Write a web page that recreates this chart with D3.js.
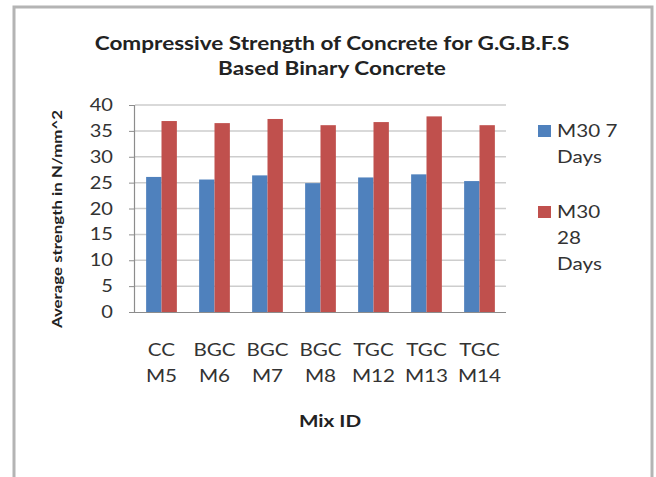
<!DOCTYPE html>
<html><head><meta charset="utf-8">
<script src="https://cdn.jsdelivr.net/npm/d3@7"></script>
<style>body{margin:0;background:#fff}svg{display:block}</style>
</head><body>
<svg id="c" width="656" height="477"></svg>
<script>
const categories = [["CC","M5"],["BGC","M6"],["BGC","M7"],["BGC","M8"],["TGC","M12"],["TGC","M13"],["TGC","M14"]];
const seriesNames = [["M30 7","Days"],["M30","28","Days"]];
const days7 = [26.1, 25.6, 26.4, 24.9, 26.0, 26.6, 25.3];
const days28 = [36.9, 36.5, 37.3, 36.1, 36.7, 37.8, 36.1];
const yTicks = [0,5,10,15,20,25,30,35,40];
const colors = ["#4F81BD","#C0504D"];

const svg = d3.select("#c");
const font = "Lato, 'Open Sans', sans-serif";
const SX = 1.18;
function txt(g, x, y, t, o) {
  o = o || {};
  return g.append("text")
    .attr("transform", `translate(${x},${y}) scale(${o.sx||SX},1)`)
    .attr("text-anchor", o.anchor || "start")
    .attr("font-family", font)
    .attr("font-weight", o.bold ? "bold" : "normal")
    .attr("font-size", o.size || 17)
    .attr("fill", o.fill || "#333")
    .text(t);
}

svg.append("rect").attr("x",14).attr("y",7).attr("width",638).attr("height",490)
  .attr("fill","#fff").attr("stroke","#b4b4b4").attr("stroke-width",3);

const m = {l:135, r:506, t:105, b:312};
const x = d3.scaleBand().domain(d3.range(categories.length)).range([m.l,m.r]).paddingInner(0.42).paddingOuter(0.21);
const y = d3.scaleLinear().domain([0,40]).range([m.b,m.t]);

// gridlines
svg.append("g").selectAll("line").data(yTicks.filter(d=>d>0)).join("line")
  .attr("x1",m.l).attr("x2",m.r).attr("y1",d=>y(d)).attr("y2",d=>y(d))
  .attr("stroke","#cdcdcd").attr("stroke-width",1.5);

// y axis
const ya = svg.append("g").attr("transform",`translate(${m.l},0)`)
  .call(d3.axisLeft(y).tickValues(yTicks).tickSize(6).tickFormat(""));
ya.select(".domain").attr("stroke","#8c8c8c").attr("stroke-width",1.2).attr("d",`M-0.5,${m.t}V${m.b}`);
ya.selectAll(".tick line").attr("stroke","#8c8c8c");
yTicks.forEach(v => txt(svg, 113, y(v) + 6, String(v), {anchor:"end", size:17}));

// x axis line
svg.append("line").attr("x1",m.l).attr("x2",m.r).attr("y1",m.b+0.5).attr("y2",m.b+0.5).attr("stroke","#8c8c8c").attr("stroke-width",1.2);

const sub = d3.scaleBand().domain([0,1]).range([0,x.bandwidth()]);
[days7, days28].forEach((vals,s)=>{
  svg.append("g").selectAll("rect").data(vals).join("rect")
    .attr("x",(d,i)=>x(i)+sub(s)).attr("width",sub.bandwidth())
    .attr("y",d=>y(d)).attr("height",d=>y(0)-y(d)).attr("fill",colors[s]);
});

// category labels
categories.forEach((c,i)=>{
  const cx = x(i)+x.bandwidth()/2;
  c.forEach((t,j)=>txt(svg, cx, 356+j*26, t, {anchor:"middle", size:17.5}));
});

// title
txt(svg, 332, 50, "Compressive Strength of Concrete for G.G.B.F.S", {anchor:"middle", bold:true, size:18.5, fill:"#222", sx:1.22});
txt(svg, 332, 75, "Based Binary Concrete", {anchor:"middle", bold:true, size:18.5, fill:"#222", sx:1.22});

// axis titles
txt(svg, 330, 427, "Mix ID", {anchor:"middle", bold:true, size:17.5, fill:"#222"});
svg.append("text").attr("transform","translate(62,219) rotate(-90)").attr("text-anchor","middle").attr("font-family",font)
  .attr("font-weight","bold").attr("font-size",14).attr("fill","#222")
  .attr("textLength",218).attr("lengthAdjust","spacingAndGlyphs").text("Average strength in N/mm^2");

// legend
const ly = [125, 206];
seriesNames.forEach((lines,s)=>{
  svg.append("rect").attr("x",538).attr("y",ly[s]).attr("width",13).attr("height",12).attr("fill",colors[s]);
  lines.forEach((t,j)=>txt(svg, 557, ly[s]+12+j*26, t, {size:17.5}));
});
</script>
</body></html>
